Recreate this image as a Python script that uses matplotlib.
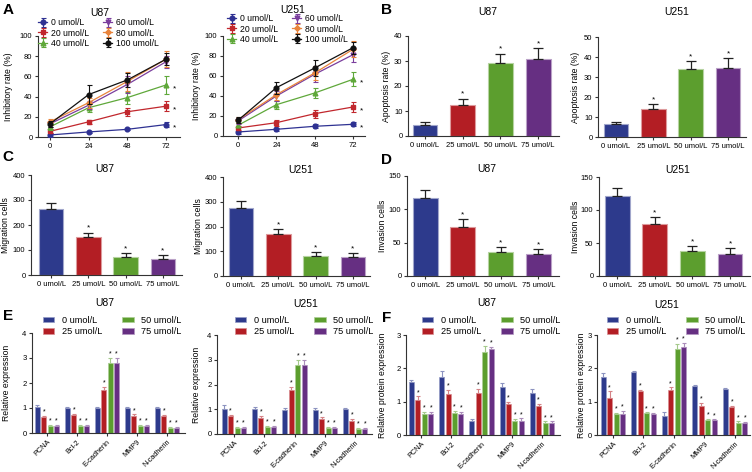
import matplotlib
matplotlib.use('Agg')
import matplotlib.pyplot as plt
from matplotlib.colors import to_rgb
import numpy as np

plt.rcParams['font.family'] = ['Liberation Sans', 'DejaVu Sans']

# ---------------- DATA ----------------
timepoints = [0, 24, 48, 72]
conc_A = ['0 umol/L', '20 umol/L', '40 umol/L', '60 umol/L', '80 umol/L', '100 umol/L']
inhib_u87 = [[2.0, 5.0, 7.6, 12.3],
             [5.6, 15.0, 25.0, 30.5],
             [10.0, 29.0, 39.0, 51.5],
             [13.0, 31.5, 52.0, 74.5],
             [15.0, 34.0, 55.0, 77.0],
             [13.0, 42.0, 56.5, 77.0]]
inhib_u87_err = [[2, 1, 1, 2.5],
                 [2, 2, 4, 5],
                 [3, 4, 6, 9],
                 [3, 4, 8, 6],
                 [3, 5, 9, 8],
                 [3, 9, 7, 6]]
inhib_u251 = [[4.0, 6.7, 9.7, 11.7],
              [8.0, 13.3, 22.3, 29.0],
              [10.7, 31.3, 43.0, 56.7],
              [15.0, 40.0, 61.7, 81.3],
              [16.3, 41.3, 63.0, 86.7],
              [15.7, 48.3, 68.0, 88.3]]
inhib_u251_err = [[1.5, 1.5, 2, 2],
                  [2, 3, 4, 5],
                  [2, 4, 5, 7],
                  [3, 5, 8, 7],
                  [3, 5, 7, 8],
                  [3, 6, 8, 6]]

doses = ['0 umol/L', '25 umol/L', '50 umol/L', '75 umol/L']
apop_u87 = [4.5, 12.5, 29.2, 31.0]
apop_u87_err = [1.1, 2.5, 3.8, 4.2]
apop_u251 = [6.4, 14.0, 33.9, 34.7]
apop_u251_err = [1.2, 2.3, 4.1, 5.0]
migr_u87 = [264, 153, 73, 65]
migr_u87_err = [23, 17, 16, 16]
migr_u251 = [276, 168, 82, 78]
migr_u251_err = [26, 21, 16, 16]
inva_u87 = [117, 74, 35.4, 32.4]
inva_u87_err = [12.5, 11, 8.5, 8.5]
inva_u251 = [121, 78.5, 38, 34]
inva_u251_err = [13, 11.5, 8, 8]

genes = ['PCNA', 'Bcl-2', 'E-cadherin', 'MMP9', 'N-cadherin']
e_u87 = [[1.03, 0.99, 1.00, 1.00, 1.00],
         [0.63, 0.71, 1.72, 0.69, 0.67],
         [0.29, 0.29, 2.80, 0.29, 0.20],
         [0.29, 0.29, 2.80, 0.29, 0.20]]
e_u87_err = [[0.10, 0.06, 0.06, 0.06, 0.06],
             [0.07, 0.07, 0.12, 0.06, 0.06],
             [0.05, 0.05, 0.20, 0.05, 0.04],
             [0.05, 0.05, 0.20, 0.05, 0.04]]
e_u251 = [[1.01, 1.00, 0.98, 0.98, 1.00],
          [0.71, 0.66, 1.78, 0.62, 0.54],
          [0.24, 0.28, 2.79, 0.24, 0.20],
          [0.24, 0.28, 2.79, 0.24, 0.20]]
e_u251_err = [[0.15, 0.10, 0.06, 0.06, 0.06],
              [0.07, 0.07, 0.12, 0.06, 0.06],
              [0.05, 0.05, 0.20, 0.05, 0.04],
              [0.05, 0.05, 0.20, 0.05, 0.04]]
f_u87 = [[1.58, 1.74, 0.43, 1.44, 1.26],
         [1.04, 1.22, 1.25, 0.92, 0.87],
         [0.62, 0.65, 2.49, 0.43, 0.36],
         [0.62, 0.62, 2.58, 0.42, 0.36]]
f_u87_err = [[0.06, 0.17, 0.06, 0.12, 0.12],
             [0.12, 0.13, 0.13, 0.08, 0.07],
             [0.08, 0.08, 0.18, 0.06, 0.05],
             [0.08, 0.08, 0.06, 0.08, 0.05]]
f_u251 = [[1.74, 1.89, 0.56, 1.47, 1.37],
          [1.11, 1.31, 1.35, 0.88, 0.85],
          [0.63, 0.66, 2.59, 0.45, 0.37],
          [0.62, 0.64, 2.64, 0.44, 0.36]]
f_u251_err = [[0.13, 0.02, 0.13, 0.03, 0.05],
              [0.20, 0.04, 0.08, 0.08, 0.03],
              [0.03, 0.02, 0.15, 0.03, 0.04],
              [0.10, 0.03, 0.13, 0.03, 0.04]]

# ---------------- STYLE ----------------
line_colors = ['#2E3192', '#C1272D', '#5FA83A', '#7A3E9D', '#E8843C', '#111111']
line_markers = ['o', 's', '^', 'v', 'D', 'o']
bar_colors = ['#2D3A8C', '#B31E24', '#5C9E2E', '#662F82']
SPINE = '#333333'
TICK_FS = 5.5
LAB_FS = 6.2
TITLE_FS = 7.5
LEG_FS = 6.2

W, H = 752, 472
fig = plt.figure(figsize=(W / 100, H / 100), dpi=100)


def lighten(c, f):
    r, g, b = to_rgb(c)
    return (r + (1 - r) * f, g + (1 - g) * f, b + (1 - b) * f)


def add_ax(l, t, r, b):
    ax = fig.add_axes([l / W, 1 - b / H, (r - l) / W, (b - t) / H])
    ax.box = (l, t, r, b)
    for s in ['top', 'right']:
        ax.spines[s].set_visible(False)
    for s in ['left', 'bottom']:
        ax.spines[s].set_color(SPINE)
        ax.spines[s].set_linewidth(0.8)
    ax.tick_params(labelsize=TICK_FS, length=2.5, width=0.8, pad=1.5, color=SPINE)
    return ax


def ylab(ax, text, xc):
    l, t, r, b = ax.box
    ax.set_ylabel(text, fontsize=LAB_FS)
    ax.yaxis.set_label_coords((xc + 4 - l) / (r - l), 0.5)


def ftext(x, y, s, **kw):
    fig.text(x / W, 1 - y / H, s, ha='center', va='center', **kw)


# ---------------- PANEL A ----------------
def panel_a(box, xlim, data, errs, ylab_x, leg_xy):
    ax = add_ax(*box)
    handles = []
    for i in range(6):
        h = ax.errorbar(timepoints, data[i], yerr=errs[i], color=line_colors[i],
                        marker=line_markers[i], markersize=3.4 if line_markers[i] != 'D' else 2.8,
                        lw=0.9, elinewidth=0.8, capsize=1.8, capthick=0.8, zorder=3 + i)
        handles.append(h)
    for i in range(3):
        ax.annotate('*', (72, data[i][3]), xytext=(5, -2.5), textcoords='offset points',
                    fontsize=6, ha='left', va='center')
    ax.set_xlim(*xlim)
    ax.set_ylim(0, 100)
    ax.set_xticks(timepoints)
    ax.set_yticks([0, 20, 40, 60, 80, 100])
    ylab(ax, 'Inhibitory rate (%)', ylab_x)
    ax.legend(handles, conc_A, ncol=2, loc='center left', frameon=False,
              bbox_to_anchor=(leg_xy[0] / W, 1 - leg_xy[1] / H),
              bbox_transform=fig.transFigure, fontsize=LEG_FS, borderpad=0,
              borderaxespad=0, handlelength=1.1, handletextpad=0.4,
              columnspacing=1.6, labelspacing=0.12)
    return ax


panel_a((38, 36, 180, 137), (-7.4, 80.7), inhib_u87, inhib_u87_err, 9, (38, 33))
panel_a((223, 36, 365, 136), (-9.4, 79.5), inhib_u251, inhib_u251_err, 197, (227, 29))
ftext(100, 13, 'U87', fontsize=TITLE_FS)
ftext(293, 10, 'U251', fontsize=TITLE_FS)


# ---------------- SIMPLE BAR PANELS ----------------
def bar_panel(box, xlim, vals, errs, ymax, ystep, label, ylab_x):
    ax = add_ax(*box)
    x = np.arange(len(vals))
    ax.bar(x, vals, width=0.66, color=bar_colors,
           edgecolor=[lighten(c, 0.55) for c in bar_colors], linewidth=0.8, zorder=2)
    ax.errorbar(x, vals, yerr=[np.zeros(len(vals)), errs], fmt='none', ecolor='#222222',
                elinewidth=0.9, capsize=3.8, capthick=0.9, zorder=3)
    for i in range(1, len(vals)):
        ax.annotate('*', (x[i], vals[i] + errs[i]), xytext=(0, 0.5), textcoords='offset points',
                    fontsize=6, ha='center', va='bottom')
    ax.set_xlim(*xlim)
    ax.set_ylim(0, ymax)
    ax.set_yticks(np.arange(0, ymax + ystep / 2, ystep))
    ax.set_xticks(x)
    ax.set_xticklabels(doses)
    ylab(ax, label, ylab_x)
    return ax


bar_panel((408, 36, 559, 136), (-0.45, 3.55), apop_u87, apop_u87_err, 40, 10, 'Apoptosis rate (%)', 387)
bar_panel((598, 37, 746, 137), (-0.48, 3.48), apop_u251, apop_u251_err, 50, 10, 'Apoptosis rate (%)', 576)
bar_panel((31, 175, 182, 275), (-0.54, 3.51), migr_u87, migr_u87_err, 400, 100, 'Migration cells', 6)
bar_panel((223, 177, 370, 276), (-0.48, 3.46), migr_u251, migr_u251_err, 400, 100, 'Migration cells', 199)
bar_panel((407, 176, 559, 276), (-0.48, 3.55), inva_u87, inva_u87_err, 150, 50, 'Invasion cells', 383)
bar_panel((599, 177, 750, 276), (-0.48, 3.53), inva_u251, inva_u251_err, 150, 50, 'Invasion cells', 576)

ftext(488, 12, 'U87', fontsize=TITLE_FS)
ftext(677, 12, 'U251', fontsize=TITLE_FS)
ftext(105, 169, 'U87', fontsize=TITLE_FS)
ftext(301, 170, 'U251', fontsize=TITLE_FS)
ftext(487, 169, 'U87', fontsize=TITLE_FS)
ftext(678, 170, 'U251', fontsize=TITLE_FS)


# ---------------- GROUPED BAR PANELS ----------------
def group_panel(box, xlim, vals, errs, ymax, label, ylab_x, leg_xy):
    ax = add_ax(*box)
    x = np.arange(len(genes))
    offs = [-0.32, -0.107, 0.107, 0.32]
    handles = []
    for k in range(4):
        xs = x + offs[k]
        h = ax.bar(xs, vals[k], width=0.165, color=bar_colors[k],
                   edgecolor=lighten(bar_colors[k], 0.5), linewidth=0.5, zorder=2)
        handles.append(h)
        ax.errorbar(xs, vals[k], yerr=[np.zeros(len(genes)), errs[k]], fmt='none',
                    ecolor=lighten(bar_colors[k], 0.45), elinewidth=0.8, capsize=1.3,
                    capthick=0.8, zorder=3)
        if k > 0:
            for j in range(len(genes)):
                ax.annotate('*', (xs[j], vals[k][j] + errs[k][j]), xytext=(0, 0.2),
                            textcoords='offset points', fontsize=5, ha='center', va='bottom')
    ax.set_xlim(*xlim)
    ax.set_ylim(0, ymax)
    ax.set_yticks(np.arange(0, ymax + 0.5, 1))
    ax.set_xticks(x)
    ax.set_xticklabels(genes, rotation=45, ha='right', rotation_mode='anchor', fontsize=5.2)
    ylab(ax, label, ylab_x)
    ax.legend(handles, doses, ncol=2, loc='center left', frameon=False,
              bbox_to_anchor=(leg_xy[0] / W, 1 - leg_xy[1] / H),
              bbox_transform=fig.transFigure, fontsize=LEG_FS + 0.4, borderpad=0,
              borderaxespad=0, handlelength=1.25, handleheight=0.55, handletextpad=0.8,
              columnspacing=2.2, labelspacing=0.25)
    return ax


group_panel((32, 333, 185, 433), (-0.5, 4.6), e_u87, e_u87_err, 4, 'Relative expression', 7, (43, 326))
group_panel((217, 335, 372, 434), (-0.56, 4.56), e_u251, e_u251_err, 4, 'Relative expression', 197, (235, 326))
group_panel((406, 335, 560, 435), (-0.5, 4.6), f_u87, f_u87_err, 3, 'Relative protein expression', 383, (422, 326))
group_panel((597, 335, 750, 435), (-0.52, 4.49), f_u251, f_u251_err, 3, 'Relative protein expression', 582, (607, 326))

ftext(105, 303, 'U87', fontsize=TITLE_FS)
ftext(306, 304, 'U251', fontsize=TITLE_FS)
ftext(487, 303, 'U87', fontsize=TITLE_FS)
ftext(667, 305, 'U251', fontsize=TITLE_FS)

# ---------------- PANEL LETTERS ----------------
for s, x, y in [('A', 8, 10), ('B', 387, 10), ('C', 8, 157), ('D', 387, 160),
                ('E', 8, 316), ('F', 387, 318)]:
    ftext(x, y, s, fontsize=11, fontweight='bold')

fig.savefig('out.png', dpi=100)
